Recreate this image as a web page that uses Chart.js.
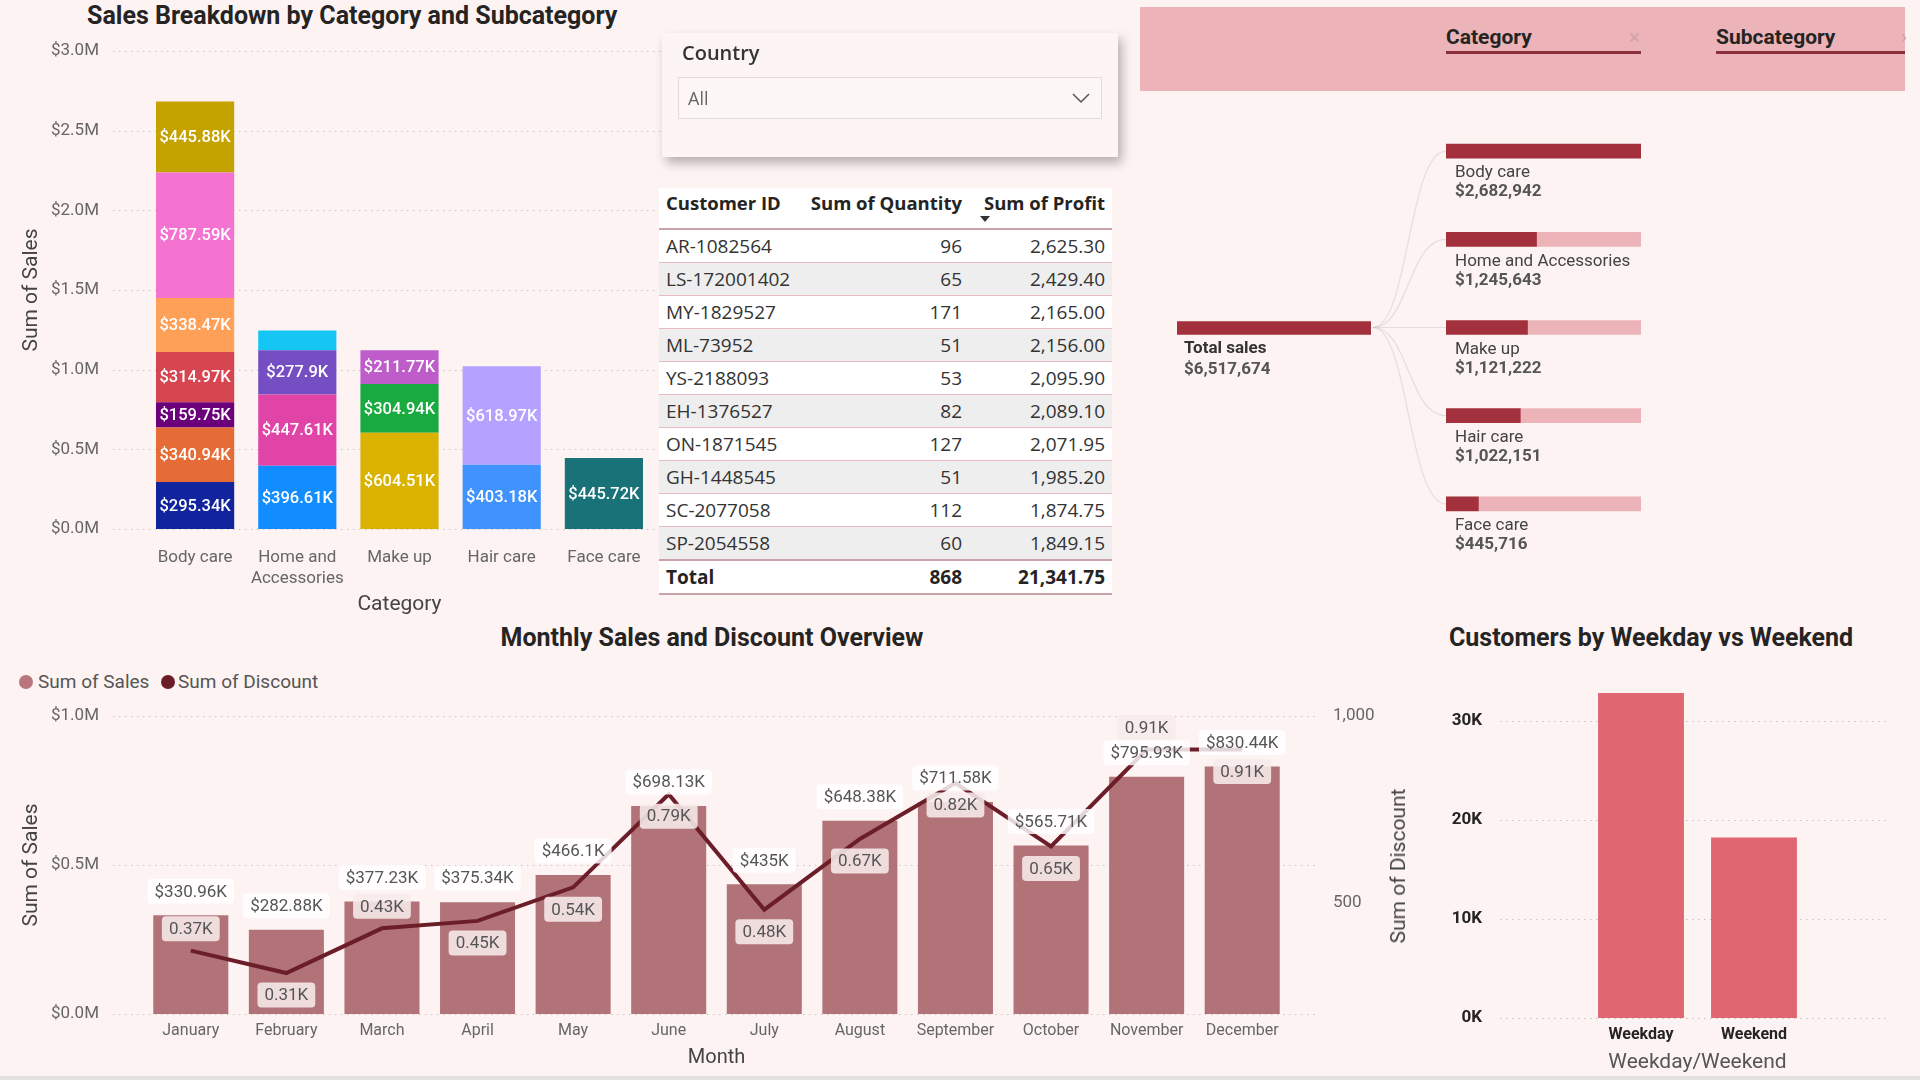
<!DOCTYPE html>
<html><head><meta charset="utf-8">
<script src="https://cdn.jsdelivr.net/npm/chart.js@4.4.1/dist/chart.umd.min.js"></script>
<style>
html,body{margin:0;padding:0;}
body{width:1920px;height:1080px;background:#fdf3f3;position:relative;overflow:hidden;font-family:Roboto,sans-serif;}
canvas{position:absolute;}
.title{position:absolute;font-family:Roboto,sans-serif;font-weight:700;font-size:25px;color:#252423;line-height:28px;white-space:nowrap;}
#slicer{position:absolute;left:662px;top:33px;width:456px;height:124px;background:#fdf4f4;box-shadow:4px 6px 10px rgba(0,0,0,0.28);z-index:5;}
#slicer .lbl{position:absolute;left:20px;top:7px;font:600 20px 'Open Sans',sans-serif;color:#333;line-height:26px;}
#slicer .dd{position:absolute;left:16px;top:44px;width:424px;height:42px;border:1px solid #e6dada;box-sizing:border-box;background:#fdf6f6;}
#slicer .dd span{position:absolute;left:9px;top:0;font:18px 'Open Sans',sans-serif;line-height:40px;color:#666;}
#slicer .dd svg{position:absolute;right:10px;top:13px;}
#tblwrap{position:absolute;left:659px;top:188px;width:453px;background:#fff;z-index:4;}
#tbl{border-collapse:collapse;width:453px;table-layout:fixed;font-family:'Open Sans',sans-serif;}
#tbl th{height:38px;vertical-align:top;padding:2px 7px 0 0;font-weight:700;font-size:18.5px;color:#252423;text-align:right;border-bottom:2px solid #c9a3a7;white-space:nowrap;line-height:26px;}
#tbl th.l{padding-left:7px;}
#tbl td{height:32px;padding:0 7px;font-size:19px;color:#333;text-align:right;border-bottom:1px solid #e6bcc0;line-height:32px;white-space:nowrap;}
#tbl .l{text-align:left;}
#tbl tbody tr:nth-child(even) td{background:#eeeeee;}
#tbl tfoot td{font-weight:700;border-top:2px solid #c9a3a7;border-bottom:2px solid #c9a3a7;height:31px;color:#252423;}
#sortArrow{position:absolute;left:980px;top:216px;width:0;height:0;border-left:5px solid transparent;border-right:5px solid transparent;border-top:6px solid #333;z-index:6;}
#band{position:absolute;left:1140px;top:7px;width:765px;height:84px;background:#ecb4b8;}
.bandTxt{position:absolute;top:23px;font:700 21px Roboto,sans-serif;color:#252423;line-height:28px;}
.bandLine{position:absolute;top:51px;height:3px;background:#8b2f3a;}
.bandX{position:absolute;top:24px;font:20px Roboto,sans-serif;color:#cfa3a7;line-height:26px;}
.legend{position:absolute;top:671px;font:19px Roboto,sans-serif;color:#555;line-height:22px;white-space:nowrap;}
.dot{position:absolute;width:14px;height:14px;border-radius:50%;top:675px;}
#rTitle{position:absolute;left:1398px;top:866px;transform:translate(-50%,-50%) rotate(-90deg);font:21px Roboto,sans-serif;color:#444;white-space:nowrap;}
#bottomLine{position:absolute;left:0;top:1076px;width:1920px;height:4px;background:#e6e1e1;}
</style></head>
<body>
<div class="title" style="left:87px;top:2px;">Sales Breakdown by Category and Subcategory</div>
<div class="title" style="left:712px;top:624px;transform:translateX(-50%);">Monthly Sales and Discount Overview</div>
<div class="title" style="left:1449px;top:624px;">Customers by Weekday vs Weekend</div>

<canvas id="c1" width="670" height="620" style="left:0;top:0;"></canvas>
<canvas id="c2" width="1420" height="380" style="left:0;top:700px;"></canvas>
<canvas id="c3" width="490" height="420" style="left:1430px;top:660px;"></canvas>

<div id="band"></div>
<div class="bandTxt" style="left:1446px;">Category</div>
<div class="bandLine" style="left:1446px;width:195px;"></div>
<div class="bandX" style="left:1629px;">×</div>
<div class="bandTxt" style="left:1716px;">Subcategory</div>
<div class="bandLine" style="left:1716px;width:189px;"></div>
<div class="bandX" style="left:1901px;">›</div>
<canvas id="c4" width="210" height="90" style="left:1170px;top:300px;"></canvas>
<canvas id="c5" width="290" height="470" style="left:1371px;top:100px;"></canvas>

<div id="slicer"><div class="lbl">Country</div>
<div class="dd"><span>All</span><svg width="20" height="14" viewBox="0 0 20 14"><polyline points="2,3 10,11 18,3" fill="none" stroke="#555" stroke-width="1.5"/></svg></div></div>

<div id="tblwrap"><table id="tbl">
<colgroup><col style="width:141px"><col style="width:169px"><col style="width:143px"></colgroup>
<thead><tr><th class="l">Customer ID</th><th>Sum of Quantity</th><th>Sum of Profit</th></tr></thead>
<tbody id="tbody"></tbody>
<tfoot><tr><td class="l">Total</td><td id="totQ"></td><td id="totP"></td></tr></tfoot>
</table></div>
<div id="sortArrow"></div>

<span class="dot" style="left:19px;background:#b9777d;"></span>
<div class="legend" style="left:38px;">Sum of Sales</div>
<span class="dot" style="left:161px;background:#6b1d27;"></span>
<div class="legend" style="left:178px;">Sum of Discount</div>
<div id="rTitle">Sum of Discount</div>
<div id="bottomLine"></div>

<script>
// ---------- DATA ----------
const categories = ['Body care', 'Home and Accessories', 'Make up', 'Hair care', 'Face care'];
const bodyCareSales = [295340, 340940, 159750, 314970, 338470, 787590, 445880];
const homeAccessoriesSales = [396610, 447610, 277900, 123523];
const makeUpSales = [604510, 304940, 211770];
const hairCareSales = [403180, 618970];
const faceCareSales = [445720];
const salesTicks = [0, 500000, 1000000, 1500000, 2000000, 2500000, 3000000];

const customerIds = ['AR-1082564','LS-172001402','MY-1829527','ML-73952','YS-2188093','EH-1376527','ON-1871545','GH-1448545','SC-2077058','SP-2054558'];
const quantities = [96, 65, 171, 51, 53, 82, 127, 51, 112, 60];
const profits = [2625.30, 2429.40, 2165.00, 2156.00, 2095.90, 2089.10, 2071.95, 1985.20, 1874.75, 1849.15];

const treeTotalSales = 6517674;
const treeCategorySales = [2682942, 1245643, 1121222, 1022151, 445716];

const months = ['January','February','March','April','May','June','July','August','September','October','November','December'];
const monthlySales = [330960, 282880, 377230, 375340, 466100, 698130, 435000, 648380, 711580, 565710, 795930, 830440];
const monthlyDiscount = [370, 310, 430, 450, 540, 790, 480, 670, 820, 650, 910, 910];
const monthlySalesTicks = [0, 500000, 1000000];
const discountTicks = [500, 1000];

const dayTypes = ['Weekday', 'Weekend'];
const dayTypeCustomers = [32800, 18200];
const customerTicks = [0, 10000, 20000, 30000];

// ---------- STYLES ----------
const subcategoryColors = [
  ['#12239E', '#E66C37', '#6B007B', '#D64550', '#FFA058', '#F472D0', '#C4A200'],
  ['#118DFF', '#E044A7', '#744EC2', '#15C6F4'],
  ['#D9B300', '#1AAB40', '#BE5DC9'],
  ['#4092FF', '#B5A1FF'],
  ['#197278']
];
const discountLabelAbove = [true, false, true, false, false, false, false, false, false, false, true, false];

Chart.defaults.font.family = 'Roboto, sans-serif';
Chart.defaults.animation = false;
Chart.defaults.plugins.legend.display = false;
Chart.defaults.plugins.tooltip.enabled = false;

const fmtK = v => '$' + Number((v / 1000).toFixed(2)) + 'K';
const fmtM = v => '$' + (v / 1e6).toFixed(1) + 'M';
const fixAxis = w => s => { s.width = w; s.paddingTop = 0; s.paddingBottom = 0; };

const dottedGrid = {
  id: 'dottedGrid',
  beforeDatasetsDraw(chart, args, opts) {
    const ys = chart.scales[opts.axis || 'y'];
    const ctx = chart.ctx, ca = chart.chartArea;
    ctx.save();
    ctx.strokeStyle = opts.color || '#c9c1c1';
    ctx.lineWidth = 1;
    ctx.setLineDash([1.5, 4.5]);
    ys.ticks.forEach((t, i) => {
      const py = Math.round(ys.getPixelForTick(i)) + 0.5;
      ctx.beginPath();
      ctx.moveTo(ca.left - (opts.extendLeft || 0), py);
      ctx.lineTo(ca.right + (opts.extendRight || 0), py);
      ctx.stroke();
    });
    ctx.restore();
  }
};

// ---------- TABLE ----------
(function () {
  const tb = document.getElementById('tbody');
  const f2 = v => v.toLocaleString('en-US', {minimumFractionDigits: 2, maximumFractionDigits: 2});
  customerIds.forEach((id, i) => {
    const tr = document.createElement('tr');
    tr.innerHTML = '<td class="l">' + id + '</td><td>' + quantities[i] + '</td><td>' + f2(profits[i]) + '</td>';
    tb.appendChild(tr);
  });
  document.getElementById('totQ').textContent = quantities.reduce((a, b) => a + b, 0);
  document.getElementById('totP').textContent = f2(profits.reduce((a, b) => a + b, 0));
})();

// ---------- CHART 1: stacked ----------
const subcategorySales = [bodyCareSales, homeAccessoriesSales, makeUpSales, hairCareSales, faceCareSales];
const ds1 = [];
subcategorySales.forEach((vals, ci) => vals.forEach((v, si) => {
  ds1.push({
    label: categories[ci] + ' ' + (si + 1),
    data: categories.map((_, k) => k === ci ? v : null),
    backgroundColor: subcategoryColors[ci][si],
    borderWidth: 0, barPercentage: 0.765, categoryPercentage: 1
  });
}));
const stackLabels = {
  id: 'stackLabels',
  afterDatasetsDraw(chart) {
    const ctx = chart.ctx;
    ctx.save();
    ctx.font = '500 16.5px Roboto, sans-serif';
    ctx.fillStyle = '#ffffff';
    ctx.textAlign = 'center'; ctx.textBaseline = 'middle';
    chart.data.datasets.forEach((ds, di) => {
      chart.getDatasetMeta(di).data.forEach((el, i) => {
        const v = ds.data[i];
        if (v == null) return;
        if (Math.abs(el.base - el.y) < 22) return;
        ctx.fillText(fmtK(v), el.x, (el.y + el.base) / 2 + 1);
      });
    });
    ctx.restore();
  }
};
new Chart(document.getElementById('c1'), {
  type: 'bar',
  data: {labels: categories, datasets: ds1},
  options: {
    responsive: false,
    layout: {padding: {top: 51, right: 15, left: 0, bottom: 0}},
    scales: {
      x: {
        stacked: true,
        grid: {display: false, drawTicks: false}, border: {display: false},
        ticks: {color: '#666', font: {size: 17, lineHeight: 1.25}, padding: 18, maxRotation: 0,
          callback: function (v) { const s = this.getLabelForValue(v); return s.length > 12 ? ['Home and', 'Accessories'] : s; }},
        title: {display: true, text: 'Category', color: '#444', font: {size: 21}, padding: {top: 0, bottom: 3}},
        afterFit: s => { s.height = 91; }
      },
      y: {
        stacked: true, min: 0, max: 3000000,
        afterBuildTicks: s => { s.ticks = salesTicks.map(v => ({value: v})); },
        grid: {display: false, drawTicks: false}, border: {display: false},
        ticks: {color: '#666', font: {size: 17}, padding: 45, callback: v => fmtM(v)},
        title: {display: true, text: 'Sum of Sales', color: '#444', font: {size: 21}, padding: {top: 19, bottom: 0}},
        afterFit: fixAxis(144)
      }
    },
    plugins: {dottedGrid: {extendLeft: 31, extendRight: 8}}
  },
  plugins: [dottedGrid, stackLabels]
});

// ---------- CHART 2: combo ----------
const comboLabels = {
  id: 'comboLabels',
  afterDatasetsDraw(chart) {
    const ctx = chart.ctx;
    const barMeta = chart.getDatasetMeta(0), lineMeta = chart.getDatasetMeta(1);
    ctx.save();
    ctx.font = '17px Roboto, sans-serif';
    ctx.textAlign = 'center'; ctx.textBaseline = 'middle';
    const box = (text, x, y, fill) => {
      const w = ctx.measureText(text).width + 14, h = 25;
      ctx.fillStyle = fill;
      ctx.beginPath(); ctx.roundRect(x - w / 2, y - h / 2, w, h, 4); ctx.fill();
      ctx.fillStyle = '#555';
      ctx.fillText(text, x, y + 1);
    };
    barMeta.data.forEach((el, i) => box(fmtK(monthlySales[i]), el.x, el.y - 24, 'rgba(255,255,255,0.82)'));
    lineMeta.data.forEach((el, i) => box((monthlyDiscount[i] / 1000).toFixed(2) + 'K', el.x,
      el.y + (discountLabelAbove[i] ? -22 : 22), 'rgba(247,234,235,0.88)'));
    ctx.restore();
  }
};
new Chart(document.getElementById('c2'), {
  type: 'bar',
  data: {
    labels: months,
    datasets: [
      {type: 'bar', label: 'Sum of Sales', data: monthlySales, backgroundColor: '#b17378', borderWidth: 0,
        barPercentage: 0.785, categoryPercentage: 1, yAxisID: 'y', order: 1},
      {type: 'line', label: 'Sum of Discount', data: monthlyDiscount, borderColor: '#6b1e28', borderWidth: 4,
        pointRadius: 0, tension: 0, yAxisID: 'y1', order: 0}
    ]
  },
  options: {
    responsive: false,
    layout: {padding: {top: 16, right: 0, left: 0, bottom: 0}},
    scales: {
      x: {
        grid: {display: false, drawTicks: false}, border: {display: false},
        ticks: {color: '#666', font: {size: 16}, padding: 7, maxRotation: 0, autoSkip: false},
        title: {display: true, text: 'Month', color: '#444', font: {size: 20}, padding: {top: 0, bottom: 10}},
        afterFit: s => { s.height = 66; }
      },
      y: {
        position: 'left', min: 0, max: 1000000,
        afterBuildTicks: s => { s.ticks = monthlySalesTicks.map(v => ({value: v})); },
        grid: {display: false, drawTicks: false}, border: {display: false},
        ticks: {color: '#666', font: {size: 17}, padding: 44, callback: v => fmtM(v)},
        title: {display: true, text: 'Sum of Sales', color: '#444', font: {size: 21}, padding: {top: 19, bottom: 0}},
        afterFit: fixAxis(143)
      },
      y1: {
        position: 'right', min: 200, max: 1000,
        afterBuildTicks: s => { s.ticks = discountTicks.map(v => ({value: v})); },
        grid: {display: false, drawTicks: false}, border: {display: false},
        ticks: {color: '#666', font: {size: 17}, padding: 43, callback: v => v.toLocaleString('en-US')},
        afterFit: fixAxis(130)
      }
    },
    plugins: {dottedGrid: {extendLeft: 30, extendRight: 26}}
  },
  plugins: [dottedGrid, comboLabels]
});

// ---------- CHART 3: weekday/weekend ----------
new Chart(document.getElementById('c3'), {
  type: 'bar',
  data: {labels: dayTypes, datasets: [{label: 'Customers', data: dayTypeCustomers, backgroundColor: '#e06672',
    borderWidth: 0, barPercentage: 0.76, categoryPercentage: 1}]},
  options: {
    responsive: false,
    layout: {padding: {top: 21, right: 109.5, left: 0, bottom: 0}},
    scales: {
      x: {
        grid: {display: false, drawTicks: false}, border: {display: false},
        ticks: {color: '#252423', font: {size: 16, weight: 'bold'}, padding: 7},
        title: {display: true, text: 'Weekday/Weekend', color: '#555', font: {size: 21}, padding: {top: 0, bottom: 5}},
        afterFit: s => { s.height = 62; }
      },
      y: {
        min: 0, max: 34000,
        afterBuildTicks: s => { s.ticks = customerTicks.map(v => ({value: v})); },
        grid: {display: false, drawTicks: false}, border: {display: false},
        ticks: {color: '#252423', font: {size: 17, weight: 'bold'}, padding: 102.5, callback: v => (v / 1000) + 'K'},
        afterFit: fixAxis(154.5)
      }
    },
    plugins: {dottedGrid: {extendLeft: 84.5, extendRight: 75.5}}
  },
  plugins: [dottedGrid]
});

// ---------- CHART 4: decomposition total ----------
new Chart(document.getElementById('c4'), {
  type: 'bar',
  data: {labels: ['Total sales'], datasets: [{data: [treeTotalSales], backgroundColor: '#a2313d', borderWidth: 0, barThickness: 13}]},
  options: {
    indexAxis: 'y', responsive: false,
    layout: {padding: {left: 7, right: 9, top: 15, bottom: 49}},
    scales: {x: {display: false, min: 0, max: treeTotalSales}, y: {display: false}}
  },
  plugins: [{
    id: 'totalLabel',
    afterDatasetsDraw(chart) {
      const ctx = chart.ctx, el = chart.getDatasetMeta(0).data[0];
      ctx.save();
      ctx.textBaseline = 'middle'; ctx.textAlign = 'left';
      ctx.font = 'bold 17px Roboto, sans-serif'; ctx.fillStyle = '#333';
      ctx.fillText('Total sales', el.base + 7, el.y + 21);
      ctx.fillStyle = '#555';
      ctx.fillText('$' + treeTotalSales.toLocaleString('en-US'), el.base + 7, el.y + 42);
      ctx.restore();
    }
  }]
});

// ---------- CHART 5: decomposition categories ----------
const treeMax = Math.max(...treeCategorySales);
new Chart(document.getElementById('c5'), {
  type: 'bar',
  data: {labels: categories, datasets: [
    {data: treeCategorySales, backgroundColor: '#a2313d', borderWidth: 0, barThickness: 14},
    {data: treeCategorySales.map(v => treeMax - v), backgroundColor: '#ecb4b8', borderWidth: 0, barThickness: 14}
  ]},
  options: {
    indexAxis: 'y', responsive: false,
    layout: {padding: {left: 75, right: 20, top: 7, bottom: 22}},
    scales: {x: {display: false, stacked: true, min: 0, max: treeMax}, y: {display: false, stacked: true}}
  },
  plugins: [{
    id: 'treeDecor',
    beforeDatasetsDraw(chart) {
      const ctx = chart.ctx, ca = chart.chartArea, my = (ca.top + ca.bottom) / 2;
      ctx.save();
      ctx.strokeStyle = 'rgba(190,190,190,0.4)'; ctx.lineWidth = 1.2;
      chart.getDatasetMeta(0).data.forEach(el => {
        ctx.beginPath();
        ctx.moveTo(2, my);
        ctx.bezierCurveTo(ca.left * 0.5, my, ca.left * 0.5, el.y, ca.left, el.y);
        ctx.stroke();
      });
      ctx.restore();
    },
    afterDatasetsDraw(chart) {
      const ctx = chart.ctx;
      ctx.save();
      ctx.textBaseline = 'middle'; ctx.textAlign = 'left';
      chart.getDatasetMeta(0).data.forEach((el, i) => {
        ctx.font = '17px Roboto, sans-serif'; ctx.fillStyle = '#444';
        ctx.fillText(categories[i], el.base + 9, el.y + 22);
        ctx.font = 'bold 17px Roboto, sans-serif'; ctx.fillStyle = '#555';
        ctx.fillText('$' + treeCategorySales[i].toLocaleString('en-US'), el.base + 9, el.y + 41);
      });
      ctx.restore();
    }
  }]
});
</script>
</body></html>
